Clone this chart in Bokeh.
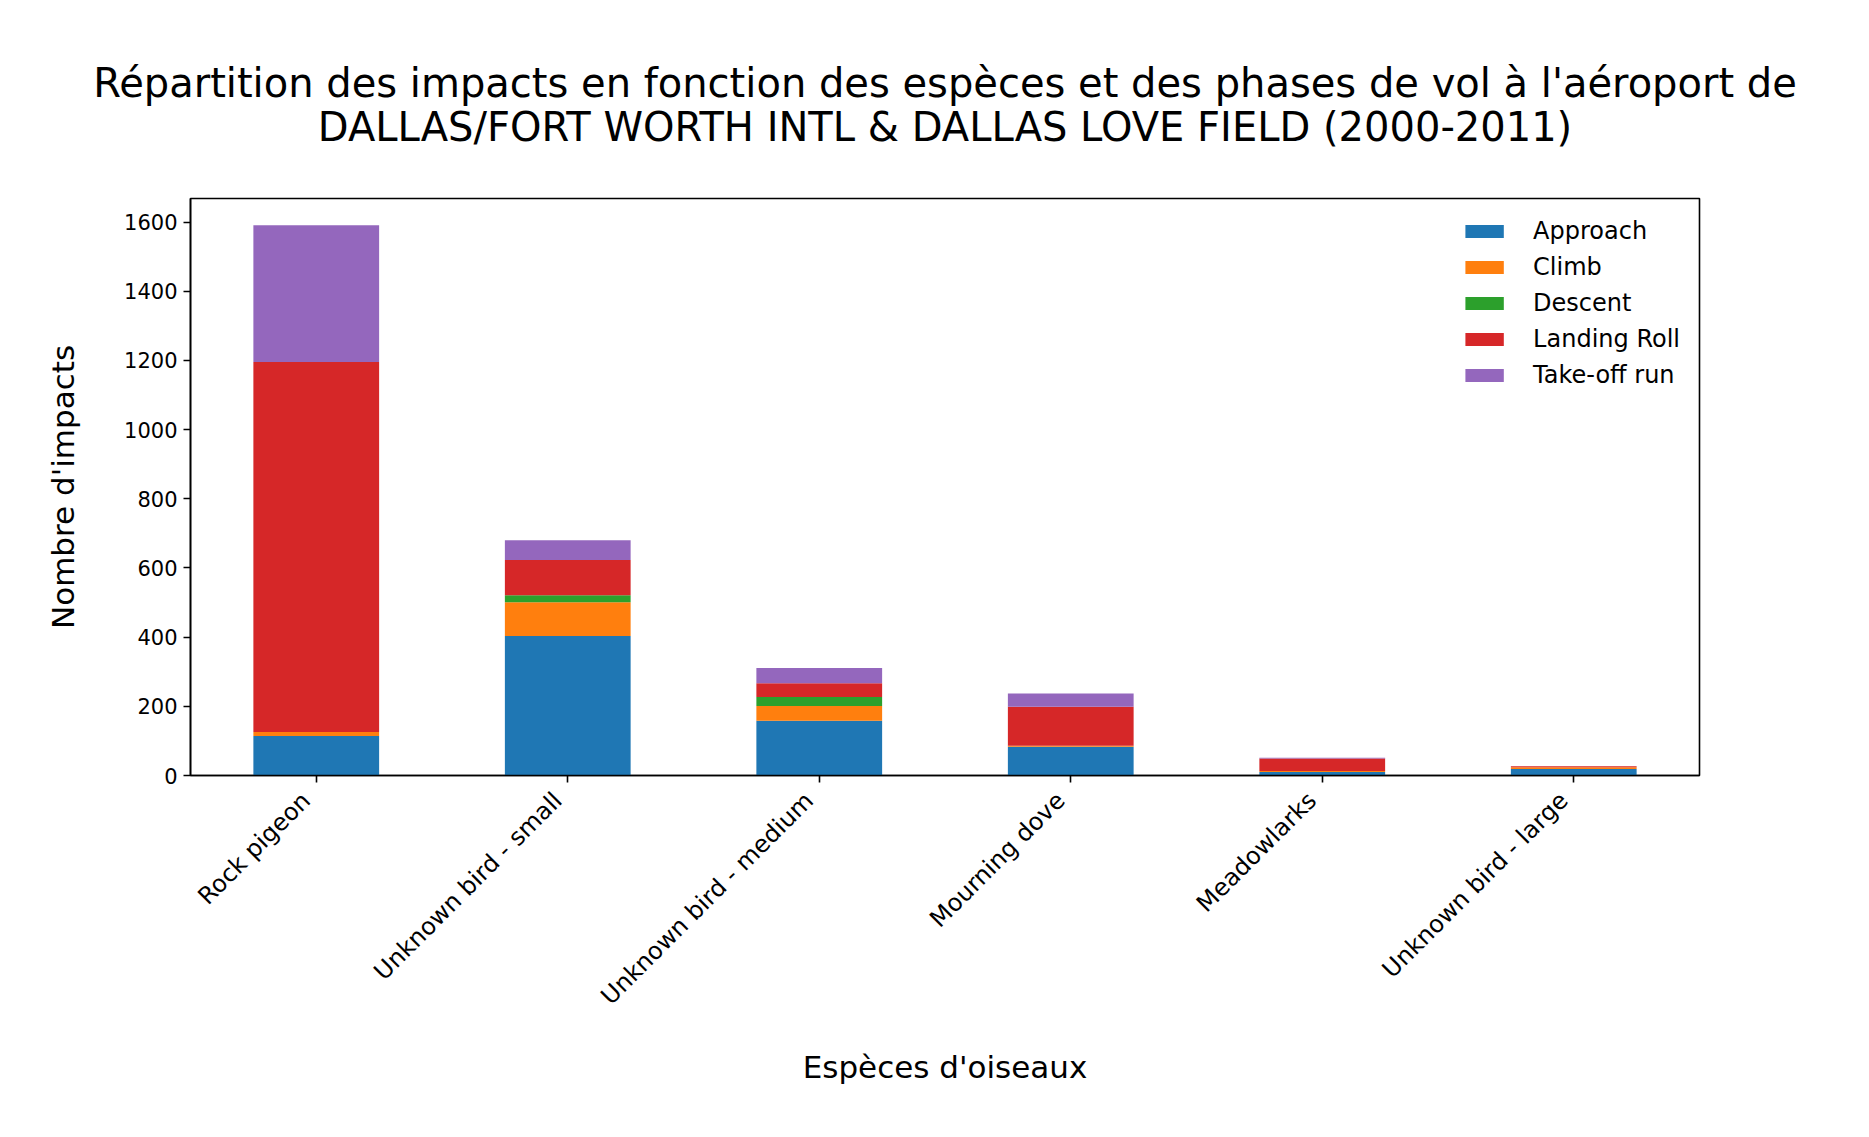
import math
from bokeh.plotting import figure
from bokeh.layouts import column
from bokeh.models import (ColumnDataSource, Range1d, LinearAxis, Title,
                          SingleIntervalTicker, FixedTicker)
from bokeh.embed import file_html
from bokeh.resources import INLINE

species = ["Rock pigeon", "Unknown bird - small", "Unknown bird - medium",
           "Mourning dove", "Meadowlarks", "Unknown bird - large"]
phases = ["Approach", "Climb", "Descent", "Landing Roll", "Take-off run"]
approach = [114, 403, 158, 83, 10, 19]
climb = [12, 98, 43, 3, 3, 5]
descent = [0, 20, 26, 0, 0, 0]
landing_roll = [1069, 102, 40, 113, 36, 3]
takeoff_run = [396, 57, 44, 38, 2, 0]
colors = ["#1f77b4", "#ff7f0e", "#2ca02c", "#d62728", "#9467bd"]

title_line1 = "Répartition des impacts en fonction des espèces et des phases de vol à l'aéroport de"
title_line2 = "DALLAS/FORT WORTH INTL & DALLAS LOVE FIELD (2000-2011)"
x_label = "Espèces d'oiseaux"
y_label = "Nombre d'impacts"

FONT = "DejaVu Sans"
W = 1850
TITLE_H = 155

# ---- title strip: line 1 above a thin empty frame, line 2 below it ----
pt = figure(width=W, height=TITLE_H, output_backend="svg", toolbar_location=None,
            x_range=Range1d(0, 1), y_range=Range1d(0, 1),
            x_axis_location=None, y_axis_location=None,
            min_border_left=190, min_border_right=151, min_border_top=103,
            min_border_bottom=TITLE_H - 105)
pt.xgrid.grid_line_color = None
pt.ygrid.grid_line_color = None
pt.outline_line_color = None
t1 = Title(text=title_line1, align="center", vertical_align="bottom", text_font=FONT,
           text_font_size="40px", text_font_style="normal", text_color="black", standoff=-4)
t2 = Title(text=title_line2, align="center", vertical_align="top", text_font=FONT,
           text_font_size="40px", text_font_style="normal", text_color="black", standoff=-4)
pt.add_layout(t1, "above")
pt.add_layout(t2, "below")

# ---- main chart ----
pos = list(range(len(species)))  # category slots on the axis
source = ColumnDataSource(dict(pos=pos, species=species, **{
    "Approach": approach, "Climb": climb, "Descent": descent,
    "Landing Roll": landing_roll, "Take-off run": takeoff_run}))

p = figure(width=W, height=1120 - TITLE_H, output_backend="svg", toolbar_location=None,
           x_range=Range1d(-0.5, len(species) - 0.5),
           y_range=Range1d(0, 1668),
           min_border_left=190, min_border_right=151, min_border_top=198 - TITLE_H,
           min_border_bottom=345)

p.vbar_stack(phases, x="pos", width=0.5, color=colors, source=source,
             legend_label=phases, line_width=0)

p.xgrid.grid_line_color = None
p.ygrid.grid_line_color = None
p.outline_line_color = "black"
p.outline_line_width = 1.6
p.outline_line_alpha = 1.0

for ax in (p.xaxis[0], p.yaxis[0]):
    ax.axis_line_color = "black"
    ax.axis_line_width = 1.6
    ax.major_tick_line_color = "black"
    ax.major_tick_line_width = 1.6
    ax.major_tick_out = 7
    ax.major_tick_in = 0
    ax.minor_tick_line_color = None
    ax.major_label_text_font = FONT
    ax.major_label_text_color = "black"
    ax.axis_label_text_font = FONT
    ax.axis_label_text_font_style = "normal"
    ax.axis_label_text_color = "black"
    ax.axis_label_text_font_size = "31px"

p.yaxis[0].ticker = SingleIntervalTicker(interval=200)
p.yaxis[0].major_label_text_font_size = "21px"
p.yaxis[0].major_label_standoff = 6
p.yaxis[0].axis_label = y_label
p.yaxis[0].axis_label_standoff = 40

# main x axis keeps the ticks at the category slots
p.xaxis[0].ticker = FixedTicker(ticks=pos)
p.xaxis[0].major_label_overrides = {i: "" for i in pos}
p.xaxis[0].major_label_text_font_size = "1px"
p.xaxis[0].major_label_standoff = 0

# names are drawn by a second axis whose range is nudged so the rotated names
# end at the tick like matplotlib's ha="right"
p.extra_x_ranges = {"lab": Range1d(-0.46, len(species) - 0.46)}
lab_axis = LinearAxis(x_range_name="lab",
                      ticker=FixedTicker(ticks=pos),
                      major_label_overrides={i: s for i, s in zip(pos, species)},
                      major_label_orientation=math.pi / 4,
                      major_label_text_font=FONT, major_label_text_font_size="24px",
                      major_label_text_color="black", major_label_standoff=14,
                      axis_line_color=None, major_tick_line_color=None,
                      minor_tick_line_color=None, major_tick_out=0, major_tick_in=0,
                      minor_tick_out=0, minor_tick_in=0,
                      axis_label=x_label, axis_label_text_font=FONT,
                      axis_label_text_font_size="31px", axis_label_text_font_style="normal",
                      axis_label_text_color="black", axis_label_standoff=26)
p.add_layout(lab_axis, "below")

lg = p.legend[0]
lg.location = "top_right"
lg.border_line_color = None
lg.background_fill_alpha = 0
lg.label_text_font = FONT
lg.label_text_font_size = "24px"
lg.label_text_color = "black"
lg.glyph_width = 48
lg.glyph_height = 16
lg.label_standoff = 25
lg.label_height = 20
lg.spacing = 8
lg.margin = 19
lg.padding = 10

open("out.html", "w").write(file_html(column(pt, p), INLINE))
